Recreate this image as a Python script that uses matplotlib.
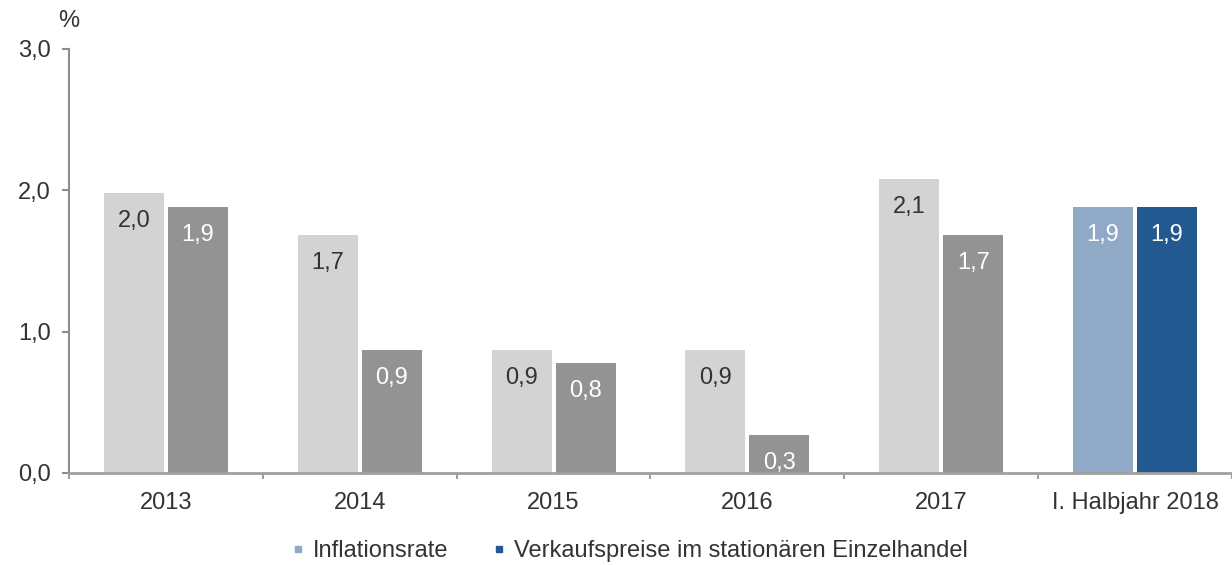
import matplotlib.pyplot as plt
import numpy as np
from matplotlib.lines import Line2D

plt.rcParams['font.family'] = ['Liberation Sans', 'DejaVu Sans']

# data
categories = ['2013', '2014', '2015', '2016', '2017', 'I. Halbjahr 2018']
inflation = [1.98, 1.68, 0.87, 0.87, 2.08, 1.88]
retail = [1.88, 0.87, 0.78, 0.27, 1.68, 1.88]

light_cols = ['#d3d3d3'] * 5 + ['#90a9c6']
dark_cols = ['#939393'] * 5 + ['#245891']
light_txt = ['#333333'] * 5 + ['white']
dark_txt = ['white'] * 6

fig = plt.figure(figsize=(12.32, 5.65), dpi=100)
ax = fig.add_axes([69 / 1232, 92 / 565, 1 - 69 / 1232, (473 - 48.5) / 565])

x = np.arange(len(categories))
w = 0.309
off = 0.165
b1 = ax.bar(x - off, inflation, w, color=light_cols)
b2 = ax.bar(x + off, retail, w, color=dark_cols)

def fmt(v):
    return ('%.1f' % v).replace('.', ',')

for bars, vals, cols in ((b1, inflation, light_txt), (b2, retail, dark_txt)):
    for rect, v, c in zip(bars, vals, cols):
        ax.annotate(fmt(v), (rect.get_x() + rect.get_width() / 2, v),
                    xytext=(0, -28), textcoords='offset pixels',
                    ha='center', va='center', fontsize=17, color=c)

ax.set_xlim(-0.5, len(categories) - 0.5)
ax.set_ylim(0, 3)
ax.set_yticks([0, 1, 2, 3])
ax.set_yticklabels([fmt(v) for v in [0, 1, 2, 3]])
ax.set_xticks(x)
ax.set_xticklabels(categories)
ax.set_xticks(np.arange(-0.5, len(categories)), minor=True)

spine_col = '#8c8c8c'
for s in ['top', 'right']:
    ax.spines[s].set_visible(False)
ax.spines['left'].set_color(spine_col)
ax.spines['left'].set_linewidth(1.5)
ax.spines['bottom'].set_color('#a0a0a0')
ax.spines['bottom'].set_linewidth(2)

ax.tick_params(axis='y', length=5, width=1.5, color=spine_col, pad=8,
               labelsize=17, labelcolor='#333333')
ax.tick_params(axis='x', which='major', length=0, pad=14,
               labelsize=17, labelcolor='#333333')
ax.tick_params(axis='x', which='minor', length=4.5, width=1.5, color='#a0a0a0')

fig.text(69 / 1232, 1 - 21 / 565, '%', fontsize=17, color='#333333',
         ha='center', va='center')

handles = [Line2D([], [], marker='s', linestyle='none', markersize=4.5,
                  color=light_cols[-1]),
           Line2D([], [], marker='s', linestyle='none', markersize=4.5,
                  color=dark_cols[-1])]
fig.legend(handles, ['Inflationsrate', 'Verkaufspreise im stationären Einzelhandel'],
           loc='center', bbox_to_anchor=(630 / 1232, 1 - 551 / 565), ncol=2,
           frameon=False, fontsize=17, labelcolor='#333333',
           handlelength=0.5, handletextpad=0.4, columnspacing=1.9,
           borderpad=0, borderaxespad=0)

fig.savefig('out.png', dpi=100)
